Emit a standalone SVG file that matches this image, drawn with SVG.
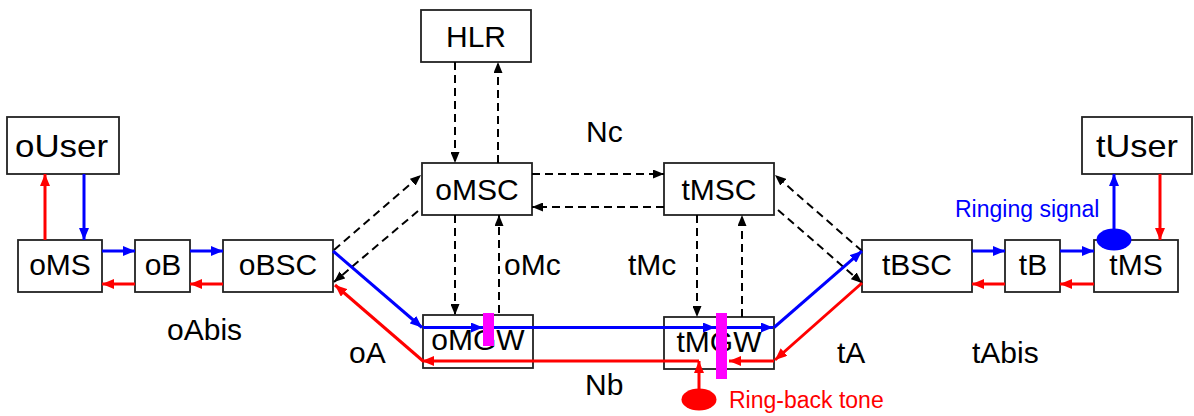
<svg xmlns="http://www.w3.org/2000/svg" width="1194" height="416" viewBox="0 0 1194 416">
<style>
.box{fill:#fff;stroke:#222;stroke-width:1.8}
.lbl{font-family:"Liberation Sans",Arial,sans-serif;font-size:30px;fill:#000}
.c{text-anchor:middle}
.blue{stroke:#00f;stroke-width:3;fill:none;marker-end:url(#ab)}
.red{stroke:#f00;stroke-width:3;fill:none;marker-end:url(#ar)}
.dash{stroke:#000;stroke-width:2;stroke-dasharray:8,5;fill:none;marker-end:url(#ak)}
.mag{fill:#f0f}
</style>
<defs>
<marker id="ab" markerUnits="userSpaceOnUse" markerWidth="12" markerHeight="10" refX="12" refY="5" orient="auto"><path d="M0,0 L12,5 L0,10 z" fill="#00f"/></marker>
<marker id="ar" markerUnits="userSpaceOnUse" markerWidth="12" markerHeight="10" refX="12" refY="5" orient="auto"><path d="M0,0 L12,5 L0,10 z" fill="#f00"/></marker>
<marker id="ak" markerUnits="userSpaceOnUse" markerWidth="11" markerHeight="9" refX="11" refY="4.5" orient="auto"><path d="M0,0 L11,4.5 L0,9 z" fill="#000"/></marker>
</defs>
<rect width="1194" height="416" fill="#fff"/>

<g id="HLR"><rect class="box" x="421" y="10" width="110" height="52"/><text class="lbl c" x="476" y="47">HLR</text></g>
<g id="oUser"><rect class="box" x="7" y="117" width="112" height="57"/><text class="lbl" x="15" y="157" style="font-size:32px" textLength="93" lengthAdjust="spacingAndGlyphs">oUser</text></g>
<g id="tUser"><rect class="box" x="1082" y="117" width="110" height="57"/><text class="lbl" x="1096" y="157" style="font-size:32px" textLength="82" lengthAdjust="spacingAndGlyphs">tUser</text></g>
<g id="oMS"><rect class="box" x="18" y="240" width="84" height="52"/><text class="lbl c" x="60" y="275">oMS</text></g>
<g id="oB"><rect class="box" x="135" y="240" width="55" height="52"/><text class="lbl c" x="163" y="275">oB</text></g>
<g id="oBSC"><rect class="box" x="223" y="240" width="110" height="52"/><text class="lbl c" x="278" y="275">oBSC</text></g>
<g id="oMSC"><rect class="box" x="422" y="163" width="110" height="52"/><text class="lbl c" x="477" y="200">oMSC</text></g>
<g id="tMSC"><rect class="box" x="664" y="163" width="110" height="52"/><text class="lbl c" x="719" y="200">tMSC</text></g>
<g id="oMGW"><rect class="box" x="423" y="315" width="110" height="53"/><text class="lbl c" x="478" y="350">oMGW</text></g>
<g id="tMGW"><rect class="box" x="664" y="317" width="110" height="52"/><text class="lbl c" x="719" y="352">tMGW</text></g>
<g id="tBSC"><rect class="box" x="862" y="240" width="110" height="52"/><text class="lbl c" x="917" y="275">tBSC</text></g>
<g id="tB"><rect class="box" x="1005" y="240" width="55" height="52"/><text class="lbl c" x="1033" y="275">tB</text></g>
<g id="tMS"><rect class="box" x="1094" y="240" width="84" height="52"/><text class="lbl c" x="1136" y="275">tMS</text></g>

<g id="labels">
<text class="lbl" x="586" y="142">Nc</text>
<text class="lbl" x="504" y="275">oMc</text>
<text class="lbl" x="628" y="275">tMc</text>
<text class="lbl" x="167" y="340">oAbis</text>
<text class="lbl" x="349" y="363">oA</text>
<text class="lbl" x="837" y="363">tA</text>
<text class="lbl" x="972" y="363">tAbis</text>
<text class="lbl" x="585" y="395">Nb</text>
<text class="lbl" x="955" y="217" style="font-size:23px;fill:#00f">Ringing signal</text>
<text class="lbl" x="729" y="408" style="font-size:23px;fill:#f00">Ring-back tone</text>
</g>

<g id="connectors">
<path class="dash" d="M455,62 L455,163"/>
<path class="dash" d="M498,163 L498,62"/>
<path class="dash" d="M455,215 L455,315"/>
<path class="dash" d="M499,313 L499,215"/>
<path class="dash" d="M697,215 L697,317"/>
<path class="dash" d="M742,317 L742,215"/>
<path class="dash" d="M532,174 L664,174"/>
<path class="dash" d="M664,207 L532,207"/>
<path class="dash" d="M334,250 L421,175"/>
<path class="dash" d="M418,211 L334,282"/>
<path class="dash" d="M862,251 L775,175"/>
<path class="dash" d="M778,210 L862,283"/>
<path class="red" d="M45,240 L45,174"/>
<path class="blue" d="M84,174 L84,240"/>
<path class="blue" d="M102,251 L135,251"/>
<path class="red" d="M135,284 L102,284"/>
<path class="blue" d="M190,251 L223,251"/>
<path class="red" d="M223,284 L190,284"/>
<path class="blue" d="M972,251 L1005,251"/>
<path class="red" d="M1005,284 L972,284"/>
<path class="blue" d="M1060,251 L1094,251"/>
<path class="red" d="M1094,284 L1060,284"/>
<path class="blue" d="M1114,238 L1114,174"/>
<path class="red" d="M1160,174 L1160,240"/>
<path class="blue" d="M333,251 L422,327.5"/>
<path class="blue" d="M423,327.5 L483,327.5"/>
<path class="blue" d="M483,327.5 L715,327.5"/>
<path class="blue" d="M715,327.5 L773,327.5"/>
<path class="blue" d="M774,327.5 L862,251"/>
<path class="red" d="M862,283 L775,360"/>
<path class="red" d="M774,361 L729,361"/>
<path class="red" d="M699,390 L699,361"/>
<path class="red" d="M699,361 L422,361"/>
<path class="red" d="M423,361 L335,285"/>
</g>

<g id="switch-points">
<rect class="mag" x="483" y="313" width="11" height="33"/>
<rect class="mag" x="716" y="313" width="11" height="66"/>
<ellipse cx="1114" cy="239.5" rx="17.5" ry="11" fill="#00f"/>
<ellipse cx="699" cy="399.5" rx="17.5" ry="11" fill="#f00"/>
</g>
</svg>
